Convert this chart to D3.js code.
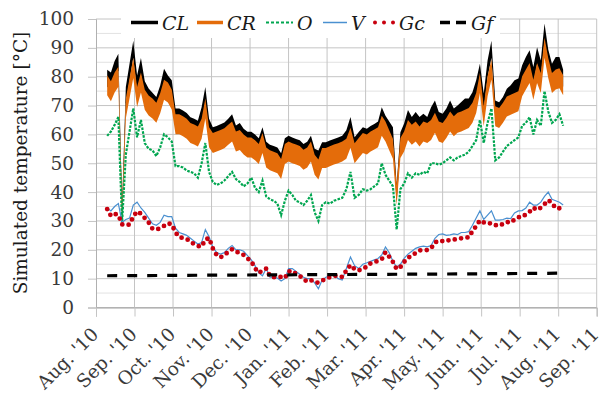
<!DOCTYPE html>
<html>
<head>
<meta charset="utf-8">
<script src="https://d3js.org/d3.v7.min.js"></script>
<style>
  body { margin: 0; background: #fff; }
  svg { display: block; font-family: "DejaVu Serif", serif; }
</style>
</head>
<body>
<svg id="chart" width="602" height="395"></svg>
<script>
const monthLabels = ["Aug. '10", "Sep. '10", "Oct. '10", "Nov. '10", "Dec. '10", "Jan. '11", "Feb. '11",
  "Mar. '11", "Apr. '11", "May. '11", "Jun. '11", "Jul. '11", "Aug. '11", "Sep. '11"];
const yTicks = [0, 10, 20, 30, 40, 50, 60, 70, 80, 90, 100];
const yMinor = [5, 15, 25, 35, 45, 55, 65, 75, 85, 95];

// sample dates (every 3 days)
const dates = [
  "2010-08-10","2010-08-13","2010-08-16","2010-08-19","2010-08-22","2010-08-25","2010-08-28","2010-08-31",
  "2010-09-03","2010-09-06","2010-09-09","2010-09-12","2010-09-15","2010-09-18","2010-09-21","2010-09-24","2010-09-27","2010-09-30",
  "2010-10-03","2010-10-06","2010-10-09","2010-10-12","2010-10-15","2010-10-18","2010-10-21","2010-10-24","2010-10-27","2010-10-30",
  "2010-11-02","2010-11-05","2010-11-08","2010-11-11","2010-11-14","2010-11-17","2010-11-20","2010-11-23","2010-11-26","2010-11-29",
  "2010-12-02","2010-12-05","2010-12-08","2010-12-11","2010-12-14","2010-12-17","2010-12-20","2010-12-23","2010-12-26","2010-12-29",
  "2011-01-01","2011-01-04","2011-01-07","2011-01-10","2011-01-13","2011-01-16","2011-01-19","2011-01-22","2011-01-25","2011-01-28","2011-01-31",
  "2011-02-03","2011-02-06","2011-02-09","2011-02-12","2011-02-15","2011-02-18","2011-02-21","2011-02-24","2011-02-27",
  "2011-03-02","2011-03-05","2011-03-08","2011-03-11","2011-03-14","2011-03-17","2011-03-20","2011-03-23","2011-03-26","2011-03-29",
  "2011-04-01","2011-04-04","2011-04-07","2011-04-10","2011-04-13","2011-04-16","2011-04-19","2011-04-22","2011-04-25","2011-04-28",
  "2011-05-01","2011-05-04","2011-05-07","2011-05-10","2011-05-13","2011-05-16","2011-05-19","2011-05-22","2011-05-25","2011-05-28","2011-05-31",
  "2011-06-03","2011-06-06","2011-06-09","2011-06-12","2011-06-15","2011-06-18","2011-06-21","2011-06-24","2011-06-27","2011-06-30",
  "2011-07-03","2011-07-06","2011-07-09","2011-07-12","2011-07-15","2011-07-18","2011-07-21","2011-07-24","2011-07-27","2011-07-30",
  "2011-08-02","2011-08-05"
];

const CL = [
  79.5, 78.5, 82.5, 85, 32.5, 73.5, 81.5, 89.5,
  77.5, 83.5, 75.5, 73, 71.5, 70, 74, 79.8, 77.5, 75.8,
  66, 66, 65.3, 64.5, 63, 62.5, 61.8, 66.5, 73.5, 62.5,
  59.5, 60, 60.6, 61.2, 62.5, 64, 60.1, 61, 59, 58,
  58, 57, 55.7, 59.5, 54.5, 53.5, 53, 52.5, 50.5, 55.7,
  56.6, 56, 55.5, 55, 53.7, 54.5, 56.6, 52.1, 51.5, 54.3, 54.3,
  54.9, 55.5, 56, 56.6, 58.5, 63.1, 56.1, 57.9, 59.5,
  59, 60, 60.7, 61.5, 66.5, 63.5, 61.5, 59.5, 39.5, 57.8,
  60.8, 65.5, 63.1, 64.8, 63.1, 64.2, 63.1, 66.5, 68.8, 64.8,
  64.2, 66, 68.8, 66, 67.1, 68.3, 69.5, 69.5, 71.7, 75.8, 81.5,
  71.2, 82.7, 89.5, 68.8, 68.2, 70, 72.9, 74.1, 75.8, 76.4,
  81, 83.9, 86.2, 80.4, 87.3, 82.7, 95.5, 86.5, 81.5, 83.9,
  83.9, 79.5
];
const CR = [
  77, 75, 78, 80, 32, 69, 76, 83,
  73, 78, 72, 70, 69, 67.5, 70.8, 75.5, 74.5, 72.1,
  63.5, 63.5, 62.8, 62, 60.5, 60, 59.3, 62, 69, 59,
  57, 57.5, 58.1, 58.7, 59.9, 61, 57.5, 58.1, 56.5, 55.5,
  55.5, 54.5, 53.2, 57, 52, 51, 50.5, 50, 48, 53.2,
  54.1, 53.5, 53, 52.5, 51.2, 52, 54.1, 49.5, 47.8, 51.8, 51.8,
  52.4, 53, 53.5, 54.1, 55, 58.8, 53.5, 55.3, 57,
  56.5, 57.5, 58.2, 59, 63, 61, 58, 55, 39, 55.3,
  57.5, 61.5, 59.9, 61, 59.3, 61, 60.5, 61.5, 64, 61,
  60.5, 62.2, 64.5, 62.8, 64, 64.5, 65.1, 65.7, 67.5, 70.9, 77.8,
  66.3, 76.7, 82.5, 66.3, 65.7, 67.5, 69.7, 70.3, 70.9, 71.5,
  76.7, 79, 81.3, 75.5, 81.3, 77.8, 90, 83, 77.8, 79,
  79.5, 77
];
const O = [
  59.5, 61, 63.3, 66, 29.5, 53, 61, 69,
  59, 65, 57, 55, 54.5, 52.5, 55.5, 60, 59, 57.5,
  49, 49, 48.5, 47.5, 47, 46.5, 45, 50, 57, 47,
  43.5, 42.5, 43, 44, 45.5, 47, 44.5, 43.5, 42, 43,
  45, 41.5, 40, 44, 38.5, 37.5, 37, 36, 32, 37,
  40.5, 39, 37, 36.5, 35.5, 37, 39, 33, 30, 35.5, 36.5,
  36, 37, 37.5, 38, 41, 47, 38, 39, 41,
  40.5, 41, 42, 43, 50, 46, 44, 42, 27, 41,
  43, 46.5, 45, 46.5, 46, 47, 46.5, 50, 50, 49.5,
  50, 51, 52, 51, 52, 52.5, 53, 54, 56, 58, 65,
  57, 64, 69, 51, 52, 54, 56, 57, 58, 59,
  63, 64, 66, 60, 65, 63, 75, 68, 64, 65,
  67, 63
];
const V = [
  34.5, 33.5, 35, 36, 29.5, 30.5, 31, 35.5,
  36.5, 34.5, 33, 31, 29, 28.5, 29.5, 32, 31.5, 31.5,
  27.5, 26, 25.5, 25, 24, 23, 22, 22.5, 27, 24.5,
  21, 19, 18.5, 19, 20.5, 21.5, 20, 20, 19.5, 18,
  16.5, 14.5, 12, 11, 13.5, 10.5, 10.5, 10.2, 9.2, 10,
  13.5, 13.5, 12.5, 11.5, 10.5, 10, 10, 8.5, 6.5, 9.5, 10.5,
  11, 11.5, 10, 9.5, 13.5, 17.5, 14.5, 13.5, 15,
  15.5, 16, 16.5, 17, 18.2, 21, 19, 16, 14, 15,
  17, 18.5, 19.5, 20.5, 21, 21.3, 21, 21.5, 24, 25.3,
  25.5, 25, 25.2, 25.5, 25.3, 26, 26, 26.3, 28.5, 31, 33.5,
  30.5, 32, 33.5, 30.3, 30.3, 30.5, 31, 30.8, 32.8, 33.5,
  33.6, 34.5, 36.5, 35.5, 35.5, 36.5, 38.5, 40, 37.5, 37,
  36.5, 35.5
];
const Gc = [
  34.1, 31.8, 32.5, 32, 28.8, 28.5, 28.8, 31.5,
  33.3, 32.5, 31, 29.5, 27.3, 27, 27.5, 28.3, 29.2, 28.8,
  26, 24.4, 24.1, 23.8, 22.7, 22, 21.3, 21.1, 23.5, 24.1,
  20.5, 18.2, 17.4, 18.2, 19.3, 20.2, 19.3, 19, 18.2, 17,
  16, 13.6, 12, 12.8, 13.5, 10.8, 10.5, 10.6, 10.6, 10.2,
  12.5, 12.7, 11.6, 11, 9.8, 9, 9.5, 8.7, 8.6, 9.3, 10,
  10.5, 11, 11, 10.6, 12.8, 14.7, 13.3, 12.8, 13.7,
  14, 15.3, 15.7, 16.2, 16.7, 19.2, 17.6, 15.8, 13.3, 14,
  15.8, 17.2, 18, 18.9, 19.8, 19.9, 19.9, 20.5, 22.5, 23.2,
  23, 22.9, 23.6, 23.6, 23.6, 24, 24.3, 24.3, 26.5, 28.2, 30.2,
  29.5, 29, 29.3, 28.6, 28.3, 29, 29.7, 29.4, 30.5, 31.3,
  31.3, 32.3, 33.2, 34.6, 33.8, 34.6, 35.8, 37.2, 36.2, 34.4,
  34.4, 34.3
];
const gfDates = ["2010-08-10", "2010-11-01", "2011-02-01", "2011-05-01", "2011-08-05"];
const Gf = [11.0, 11.2, 11.4, 11.6, 11.9];

const svg = d3.select("#chart");
const plotLeft = 96, plotRight = 596.7, plotTop = 19, plotBottom = 307.5;
const parse = d3.timeParse("%Y-%m-%d");

// Excel-like date axis: every month gets the same width
function monthPos(d) {
  const m = (d.getFullYear() - 2010) * 12 + d.getMonth() - 7;
  const dim = new Date(d.getFullYear(), d.getMonth() + 1, 0).getDate();
  return m + (d.getDate() - 1) / dim;
}

const x = d3.scaleLinear().domain([0, monthLabels.length - 1]).range([plotLeft, plotRight]);
const y = d3.scaleLinear().domain([0, 100]).range([plotBottom, plotTop]);

const toPts = (ds, vals) => ds.map((s, i) => ({m: monthPos(parse(s)), v: vals[i]}));

// gridlines
svg.append("g").selectAll("line").data(yMinor).enter().append("line")
  .attr("x1", plotLeft).attr("x2", plotRight).attr("y1", d => y(d)).attr("y2", d => y(d))
  .attr("stroke", "#e2e2e2").attr("stroke-width", 1);
svg.append("g").selectAll("line").data(yTicks).enter().append("line")
  .attr("x1", plotLeft).attr("x2", plotRight).attr("y1", d => y(d)).attr("y2", d => y(d))
  .attr("stroke", "#c4c4c4").attr("stroke-width", 1);
svg.append("g").selectAll("line").data(d3.range(1, monthLabels.length)).enter().append("line")
  .attr("x1", d => x(d)).attr("x2", d => x(d)).attr("y1", plotTop).attr("y2", plotBottom)
  .attr("stroke", "#c4c4c4").attr("stroke-width", 1);

// Y axis
const yAxis = svg.append("g")
  .attr("transform", "translate(" + plotLeft + ",0)")
  .call(d3.axisLeft(y).tickValues(yTicks).tickSize(8).tickPadding(14));
yAxis.select(".domain").attr("stroke", "#b0b0b0");
yAxis.selectAll(".tick line").attr("stroke", "#c4c4c4");
yAxis.selectAll("text").attr("font-size", 18.5).attr("font-family", "DejaVu Serif").attr("fill", "#3a3a3a");

// X axis
const xAxis = svg.append("g")
  .attr("transform", "translate(0," + plotBottom + ")")
  .call(d3.axisBottom(x).tickValues(d3.range(monthLabels.length)).tickSize(9).tickFormat(i => monthLabels[i]));
xAxis.select(".domain").attr("stroke", "#a0a0a0");
xAxis.selectAll(".tick line").attr("stroke", "#c4c4c4");
xAxis.selectAll("text")
  .attr("font-size", 18.5).attr("font-family", "DejaVu Serif").attr("fill", "#3a3a3a")
  .attr("text-anchor", "end").attr("dy", 0).attr("y", 0)
  .attr("transform", "translate(3,28)rotate(-45)");

// Y title
svg.append("text")
  .attr("transform", "translate(27,163)rotate(-90)")
  .attr("text-anchor", "middle")
  .attr("font-size", 18.5).attr("fill", "#1a1a1a")
  .text("Simulated temperature [°C]");

// series (CL / CR drawn as bands to mimic their daily swing)
const band = half => d3.area()
  .x(d => x(d.m)).y0(d => y(d.v) + half).y1(d => y(d.v) - half);
const line = d3.line().x(d => x(d.m)).y(d => y(d.v));

svg.append("path").datum(toPts(dates, CL)).attr("d", band(8.5)).attr("fill", "#000");
svg.append("path").datum(toPts(dates, CR)).attr("d", band(10)).attr("fill", "#e46c0a");
svg.append("path").datum(toPts(dates, O)).attr("d", line)
  .attr("fill", "none").attr("stroke", "#00a650").attr("stroke-width", 2.2).attr("stroke-dasharray", "2.6,1.3");
svg.append("path").datum(toPts(dates, V)).attr("d", line)
  .attr("fill", "none").attr("stroke", "#4a90d0").attr("stroke-width", 1.2);
svg.append("path").datum(toPts(dates, Gc)).attr("d", line)
  .attr("fill", "none").attr("stroke", "#c8000f").attr("stroke-width", 4.8)
  .attr("stroke-linecap", "round").attr("stroke-dasharray", "0,6.5");
svg.append("path").datum(toPts(gfDates, Gf)).attr("d", line)
  .attr("fill", "none").attr("stroke", "#000").attr("stroke-width", 3.2).attr("stroke-dasharray", "10,10");

// legend
const lg = svg.append("g");
lg.append("rect").attr("x", 121).attr("y", 6).attr("width", 379).attr("height", 32).attr("fill", "#fff");
const items = [
  {name: "CL", x1: 131, x2: 158, color: "#000", w: 3.5, dash: null},
  {name: "CR", x1: 197, x2: 223, color: "#e46c0a", w: 3.5, dash: null},
  {name: "O", x1: 266, x2: 293, color: "#00a650", w: 1.8, dash: "3,2"},
  {name: "V", x1: 323, x2: 347, color: "#4a90d0", w: 1.5, dash: null},
  {name: "Gc", x1: 375, x2: 395, color: "#c8000f", w: 4, dash: "0,9", cap: "round"},
  {name: "Gf", x1: 440, x2: 467, color: "#000", w: 3.5, dash: "10,6"}
];
items.forEach(it => {
  lg.append("line").attr("x1", it.x1).attr("x2", it.x2).attr("y1", 22.5).attr("y2", 22.5)
    .attr("stroke", it.color).attr("stroke-width", it.w)
    .attr("stroke-dasharray", it.dash).attr("stroke-linecap", it.cap || "butt");
  lg.append("text").attr("x", it.x2 + 4).attr("y", 29.5)
    .attr("font-size", 19).attr("font-style", "italic").attr("fill", "#1a1a1a")
    .text(it.name);
});
</script>
</body>
</html>
